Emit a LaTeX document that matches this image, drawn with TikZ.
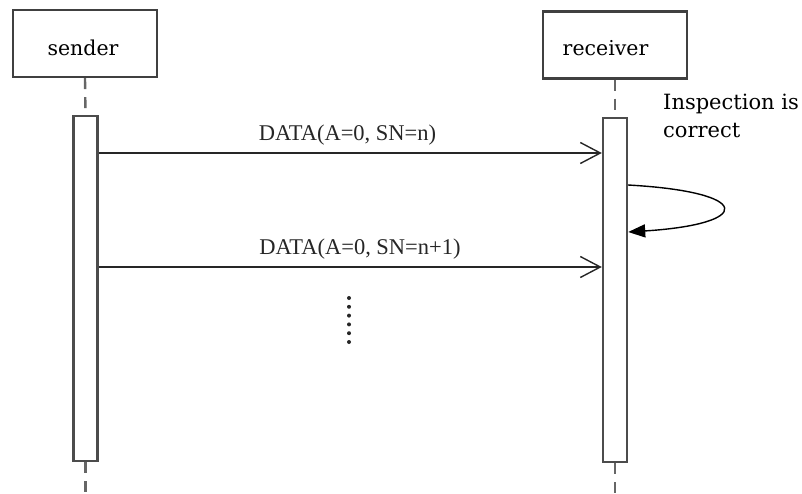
\documentclass[tikz,border=0pt]{standalone}
\usepackage{fontspec}
\setmainfont{Liberation Serif}
\newfontfamily\slabfont{DejaVu Serif}
\usetikzlibrary{arrows.meta,calc}
\begin{document}
\begin{tikzpicture}[x=1pt,y=-1pt,
  actor/.style={draw=black!75,line width=2.4pt,fill=white,minimum width=144pt,minimum height=67pt,inner sep=0pt},
  actorname/.style={font=\slabfont\fontsize{20.5}{24}\selectfont,inner sep=0pt},
  activation/.style={draw=black!70,line width=2.4pt,fill=white,minimum width=24pt,inner sep=0pt},
  lifeline/.style={draw=black!60,line width=2.4pt,dash pattern=on 11pt off 8pt},
  msg/.style={draw=black!85,line width=1.6pt,-{Straight Barb[length=20pt,width=21pt,line width=1.4pt]}},
  msglabel/.style={font=\fontsize{22.5}{26}\selectfont,text=black!85,inner sep=0pt,anchor=base},
  selfmsg/.style={draw=black,line width=1.4pt,-{Triangle[length=17pt,width=13pt]}},
  note/.style={font=\slabfont\fontsize{21}{28}\selectfont,align=left,inner sep=0pt,anchor=base west},
  dotmark/.style={fill=black!85,draw=none}]
\useasboundingbox (0,0) rectangle (802,493);

% lifeline heads
\node[actor] (sender) at (85,43.5) {};
\node[actor] (receiver) at (615,45) {};
\node[actorname] at (83,48) {sender};
\node[actorname] at (605.5,48) {receiver};

% activation bars
\node[activation,minimum height=345pt,anchor=north] (sact) at (85.5,115) {};
\node[activation,minimum height=344pt,anchor=north] (ract) at (615,117) {};

% dashed lifelines
\coordinate (send) at (85.5,493);
\coordinate (rend) at (615,493);
\draw[lifeline] (sender.south) -- (sact.north);
\draw[lifeline] (receiver.south) -- (ract.north);
\draw[lifeline] (sact.south) -- (send);
\draw[lifeline] (ract.south) -- (rend);

% messages
\coordinate (m1) at (0,153);
\coordinate (m2) at (0,267);
\draw[msg] (sact.east |- m1) -- (ract.west |- m1);
\draw[msg] (sact.east |- m2) -- (ract.west |- m2);
\node[msglabel] (l1) at (347.5,140) {DATA(A=0, SN=n)};
\node[msglabel] (l2) at (360,254) {DATA(A=0, SN=n+1)};

% self check on the receiver
\coordinate (s1) at (0,185);
\coordinate (s2) at (0,232);
\draw[selfmsg] (ract.east |- s1) .. controls (754,192) and (754,224) .. (ract.east |- s2);
\node[note] (chk) at (663,137) {Inspection is\\correct};

% continuation dots
\foreach \k in {0,...,5}
  \fill[dotmark] (349,298+8.8*\k) circle (2pt);
\end{tikzpicture}
\end{document}
